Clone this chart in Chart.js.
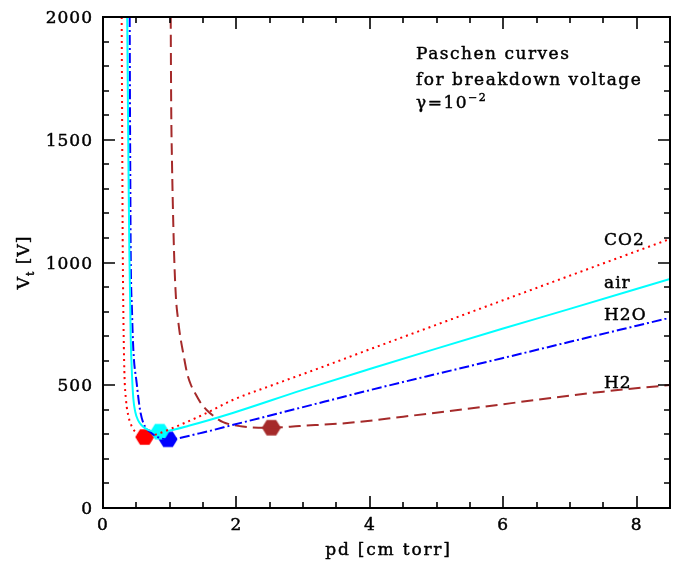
<!DOCTYPE html>
<html>
<head>
<meta charset="utf-8">
<script src="https://cdn.jsdelivr.net/npm/chart.js@4/dist/chart.umd.min.js"></script>
<style>
  html, body { margin: 0; padding: 0; background: #ffffff; }
  #wrap { width: 681px; height: 564px; }
</style>
</head>
<body>
<div id="wrap"><canvas id="chart" width="681" height="564"></canvas></div>
<script>
// Paschen curves: breakdown voltage V_t [V] against pd [cm torr], gamma = 1e-2
const co2Pd = [0.28, 0.285, 0.29, 0.295, 0.305, 0.32, 0.345, 0.385, 0.435, 0.505, 0.625, 0.80, 1.045, 1.50, 1.945, 2.545, 3.245, 3.985, 4.985, 5.985, 6.985, 8.5];
const co2V  = [2000, 1700, 1400, 1100, 800, 560, 440, 370, 330, 305, 290, 300, 326, 380, 440, 501, 570, 645, 745, 845, 945, 1096];

const airPd = [0.363, 0.375, 0.385, 0.395, 0.415, 0.435, 0.455, 0.485, 0.525, 0.575, 0.675, 0.85, 0.985, 1.285, 1.945, 2.985, 3.985, 4.985, 5.985, 6.985, 8.5];
const airV  = [2000, 1600, 1300, 1050, 700, 540, 445, 390, 358, 338, 318, 311, 315, 335, 387, 480, 565, 648, 730, 810, 933];

const h2oPd = [0.40, 0.405, 0.41, 0.415, 0.435, 0.455, 0.505, 0.555, 0.605, 0.705, 0.855, 0.975, 1.445, 1.985, 2.985, 3.985, 4.985, 5.985, 6.985, 8.5];
const h2oV  = [2000, 1600, 1300, 1050, 800, 644, 509, 400, 346, 310, 285, 280, 304, 341, 410, 479, 545, 610, 676, 775];

const h2Pd = [1.015, 1.022, 1.035, 1.05, 1.07, 1.095, 1.12, 1.15, 1.21, 1.26, 1.32, 1.38, 1.46, 1.55, 1.68, 1.80, 2.095, 2.525, 2.945, 3.695, 4.5, 5.5, 6.685, 7.5, 8.5];
const h2V  = [2000, 1650, 1400, 1200, 1000, 850, 780, 713, 620, 550, 500, 468, 430, 400, 370, 350, 332, 327, 334, 347, 372, 405, 447, 474, 501];

// Paschen minimum of each gas
const minGas = ['air', 'CO2', 'H2O', 'H2'];
const minPd  = [0.85, 0.625, 0.975, 2.525];
const minV   = [311, 289, 280, 327];

const gasNames  = ['CO2', 'air', 'H2O', 'H2'];
const gasLabelV = [1090, 915, 785, 510];

const xTickLabels = [0, 2, 4, 6, 8];
const yTickLabels = [0, 500, 1000, 1500, 2000];

const colors = { CO2: '#ff0000', air: '#00ffff', H2O: '#0000ff', H2: '#a52a2a' };
const FONT = '"DejaVu Serif", "Liberation Serif", serif';

function pts(xs, ys) { return xs.map((x, i) => ({ x: x, y: ys[i] })); }

function hexagon(color) {
  const c = document.createElement('canvas');
  const w = 20, h = 18;
  c.width = w; c.height = h;
  const g = c.getContext('2d');
  const r = 9.5, cx = w / 2, cy = h / 2;
  g.beginPath();
  for (let k = 0; k < 6; k++) {
    const a = Math.PI / 3 * k;
    const px = cx + r * Math.cos(a), py = cy + r * Math.sin(a) * 0.93;
    if (k === 0) g.moveTo(px, py); else g.lineTo(px, py);
  }
  g.closePath();
  g.fillStyle = color;
  g.fill();
  return c;
}

const lineDefaults = { showLine: true, pointRadius: 0, borderWidth: 2, fill: false, cubicInterpolationMode: 'monotone', borderCapStyle: 'butt' };

const datasets = [
  Object.assign({ label: 'CO2', data: pts(co2Pd, co2V), borderColor: colors.CO2, borderDash: [2, 4] }, lineDefaults),
  Object.assign({ label: 'air', data: pts(airPd, airV), borderColor: colors.air }, lineDefaults),
  Object.assign({ label: 'H2O', data: pts(h2oPd, h2oV), borderColor: colors.H2O, borderDash: [10, 3, 2, 3] }, lineDefaults),
  Object.assign({ label: 'H2', data: pts(h2Pd, h2V), borderColor: colors.H2, borderDash: [12, 6] }, lineDefaults)
];
minGas.forEach((g, i) => {
  datasets.push({
    label: g + ' min', data: [{ x: minPd[i], y: minV[i] }], showLine: false,
    pointStyle: hexagon(colors[g]), pointRadius: 10, backgroundColor: colors[g], borderColor: colors[g], clip: false
  });
});

// slightly heavier text: fill plus a hairline stroke
function txt(ctx, s, x, y) {
  ctx.fillText(s, x, y);
  ctx.strokeText(s, x, y);
}

const framePlugin = {
  id: 'frame',
  afterDraw(chart) {
    const ctx = chart.ctx, a = chart.chartArea;
    const xs = chart.scales.x, ys = chart.scales.y;
    ctx.save();
    ctx.strokeStyle = '#000';
    ctx.fillStyle = '#000';
    ctx.lineWidth = 2;
    ctx.strokeRect(a.left, a.top, a.right - a.left, a.bottom - a.top);

    // inward ticks on all four sides
    ctx.lineWidth = 1.6;
    ctx.beginPath();
    for (let v = 0; v <= 8.5 + 1e-9; v += 0.5) {
      const px = Math.round(xs.getPixelForValue(v));
      const len = (Math.abs(v % 2) < 1e-9) ? 12 : 6;
      ctx.moveTo(px, a.bottom); ctx.lineTo(px, a.bottom - len);
      ctx.moveTo(px, a.top); ctx.lineTo(px, a.top + len);
    }
    for (let v = 0; v <= 2000; v += 100) {
      const py = Math.round(ys.getPixelForValue(v));
      const len = (v % 500 === 0) ? 12 : 6;
      ctx.moveTo(a.left, py); ctx.lineTo(a.left + len, py);
      ctx.moveTo(a.right, py); ctx.lineTo(a.right - len, py);
    }
    ctx.stroke();

    ctx.lineWidth = 0.45;
    ctx.lineJoin = 'round';
    ctx.letterSpacing = '1px';
    ctx.font = '17px ' + FONT;
    ctx.textBaseline = 'alphabetic';
    ctx.textAlign = 'center';
    xTickLabels.forEach(v => txt(ctx, String(v), xs.getPixelForValue(v), a.bottom + 22));
    ctx.textAlign = 'right';
    yTickLabels.forEach(v => txt(ctx, String(v), a.left - 10, ys.getPixelForValue(v) + 6));

    // axis titles
    ctx.textAlign = 'center';
    ctx.letterSpacing = '1.8px';
    txt(ctx, 'pd [cm torr]', (a.left + a.right) / 2 + 2, 555);
    ctx.letterSpacing = '1px';

    ctx.save();
    ctx.translate(29, (a.top + a.bottom) / 2);
    ctx.rotate(-Math.PI / 2);
    ctx.textAlign = 'left';
    ctx.font = '17px ' + FONT;
    const wV = ctx.measureText('V').width;
    ctx.font = '11px ' + FONT;
    const wt = ctx.measureText('t').width;
    ctx.font = '17px ' + FONT;
    const wR = ctx.measureText(' [V]').width;
    let x0 = -(wV + wt + wR) / 2;
    txt(ctx, 'V', x0, 0);
    ctx.font = '11px ' + FONT;
    txt(ctx, 't', x0 + wV, 5);
    ctx.font = '17px ' + FONT;
    txt(ctx, ' [V]', x0 + wV + wt, 0);
    ctx.restore();

    // series labels at the right
    ctx.textAlign = 'left';
    ctx.font = '17px ' + FONT;
    gasNames.forEach((n, i) => txt(ctx, n, 604, ys.getPixelForValue(gasLabelV[i]) + 5));

    // annotation
    ctx.letterSpacing = '1.5px';
    txt(ctx, 'Paschen curves', 416, 59);
    txt(ctx, 'for breakdown voltage', 416, 85);
    txt(ctx, '\u03b3=10', 416, 108);
    const wg = ctx.measureText('\u03b3=10').width;
    ctx.font = '11px ' + FONT;
    txt(ctx, '\u22122', 416 + wg, 101);
    ctx.restore();
  }
};

new Chart(document.getElementById('chart'), {
  type: 'scatter',
  data: { datasets: datasets },
  options: {
    responsive: false,
    animation: false,
    devicePixelRatio: 1,
    layout: { padding: { top: 17, right: 10, left: 0, bottom: 0 } },
    plugins: { legend: { display: false }, tooltip: { enabled: false } },
    scales: {
      x: {
        type: 'linear', min: 0, max: 8.5,
        grid: { display: false }, border: { display: false }, ticks: { display: false },
        afterFit: s => { s.height = 56; }
      },
      y: {
        type: 'linear', min: 0, max: 2000,
        grid: { display: false }, border: { display: false }, ticks: { display: false },
        afterFit: s => { s.width = 103; }
      }
    }
  },
  plugins: [framePlugin]
});
</script>
</body>
</html>
